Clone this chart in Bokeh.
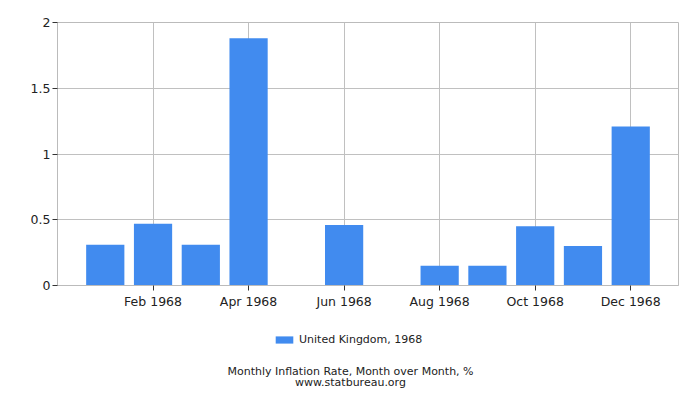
from bokeh.plotting import figure
from bokeh.layouts import column
from bokeh.models import ColumnDataSource, FixedTicker, Legend, LegendItem, Label, Range1d
from bokeh.embed import file_html
from bokeh.resources import INLINE

months = ["Jan 1968", "Feb 1968", "Mar 1968", "Apr 1968", "May 1968", "Jun 1968",
          "Jul 1968", "Aug 1968", "Sep 1968", "Oct 1968", "Nov 1968", "Dec 1968"]
rates = [0.31, 0.47, 0.31, 1.88, 0.0, 0.46, 0.0, 0.15, 0.15, 0.45, 0.30, 1.21]
series_name = "United Kingdom, 1968"
y_ticks = [0, 0.5, 1, 1.5, 2]

FONT = "DejaVu Sans"
BAR = "#418bef"
TEXT = "#222222"

p = figure(
    width=684, height=311,
    output_backend="svg", toolbar_location=None, tools="",
    x_range=Range1d(-1, len(months)), y_range=Range1d(0, 2),
    min_border_left=57, min_border_right=6, min_border_top=22, min_border_bottom=25,
)

source = ColumnDataSource(data={"x": list(range(len(months))), "rate": rates})
p.vbar(x="x", top="rate", width=0.8, source=source, fill_color=BAR, line_color=None)

# every second month gets a tick
tick_pos = list(range(1, len(months), 2))
p.xaxis.ticker = FixedTicker(ticks=tick_pos)
p.xaxis.major_label_overrides = {i: months[i] for i in tick_pos}
p.yaxis.ticker = FixedTicker(ticks=y_ticks)
p.yaxis.major_label_overrides = {0: "0", 0.5: "0.5", 1: "1", 1.5: "1.5", 2: "2"}

for ax in (p.xaxis, p.yaxis):
    ax.axis_line_color = "#bbbbbb"
    ax.major_tick_line_color = "#333333"
    ax.major_tick_out = 5
    ax.major_tick_in = 0
    ax.minor_tick_line_color = None
    ax.major_label_text_font = FONT
    ax.major_label_text_font_size = "12.5px"
    ax.major_label_text_color = TEXT
p.xaxis.major_label_standoff = 3
p.yaxis.major_label_standoff = 2

p.grid.grid_line_color = "#c0c0c0"
p.outline_line_color = "#bbbbbb"

# footer: legend + caption (its ranges keep the shared bars out of view)
f = figure(
    width=684, height=81,
    output_backend="svg", toolbar_location=None, tools="",
    x_range=Range1d(-10, -9), y_range=Range1d(5, 6),
    x_axis_location=None, y_axis_location=None,
    min_border=0,
)
f.grid.visible = False
f.outline_line_color = None
swatch = f.vbar(x="x", top="rate", width=0.8, source=source,
                fill_color=BAR, line_color=None)

legend = Legend(items=[LegendItem(label=series_name, renderers=[swatch])],
                location=(216, 46), orientation="horizontal",
                glyph_width=22, glyph_height=9, label_height=12,
                label_standoff=4, padding=0, margin=0, spacing=0,
                border_line_color=None, background_fill_alpha=0,
                label_text_font=FONT, label_text_font_size="11px",
                label_text_color=TEXT)
f.add_layout(legend, "center")

f.add_layout(Label(x=293, y=21, x_units="screen", y_units="screen",
                   text="Monthly Inflation Rate, Month over Month, %",
                   text_align="center", text_baseline="middle",
                   text_font=FONT, text_font_size="11px", text_color=TEXT))
f.add_layout(Label(x=293, y=10, x_units="screen", y_units="screen",
                   text="www.statbureau.org",
                   text_align="center", text_baseline="middle",
                   text_font=FONT, text_font_size="11px", text_color=TEXT))

layout = column(p, f, spacing=0)
open("out.html", "w").write(file_html(layout, INLINE))
